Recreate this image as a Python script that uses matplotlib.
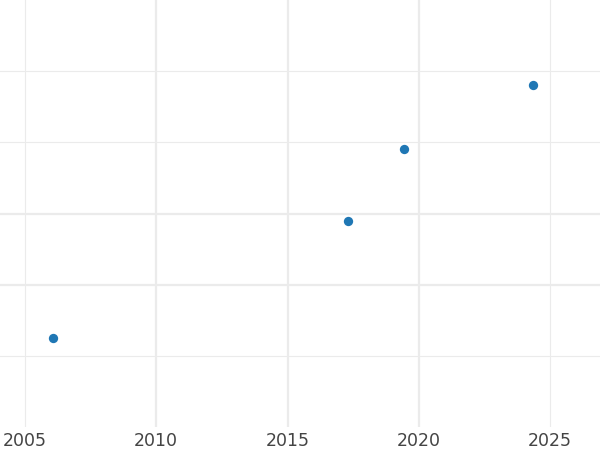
import matplotlib
matplotlib.use("Agg")
import matplotlib.pyplot as plt

years = [2006.05, 2017.3, 2019.45, 2024.35]
values = [1.25, 2.9, 3.9, 4.8]

x_ticks = [2005, 2010, 2015, 2020, 2025]
x_strong = [2010, 2015, 2020]
y_grid = [1, 2, 3, 4, 5]
y_strong = [2, 3]

fig = plt.figure(figsize=(6, 4.5), dpi=100)
ax = fig.add_axes([0, 1 - 427 / 450, 1, 427 / 450])

grid_col = "#ebebeb"
for xv in x_ticks:
    ax.axvline(xv, color=grid_col, lw=1.6 if xv in x_strong else 0.8, zorder=0)
for yv in y_grid:
    ax.axhline(yv, color=grid_col, lw=1.6 if yv in y_strong else 0.8, zorder=0)

ax.scatter(years, values, s=45, color="#1f77b4", zorder=3, linewidths=0)

ax.set_xlim(2004.05, 2026.9)
ax.set_ylim(0, 6)
ax.set_xticks(x_ticks)
ax.set_xticklabels([str(t) for t in x_ticks])
ax.set_yticks([])
ax.tick_params(axis="x", length=0, pad=3.5, labelsize=12.5, labelcolor="#444444")
for s in ax.spines.values():
    s.set_visible(False)

fig.savefig("out.png", dpi=100)
